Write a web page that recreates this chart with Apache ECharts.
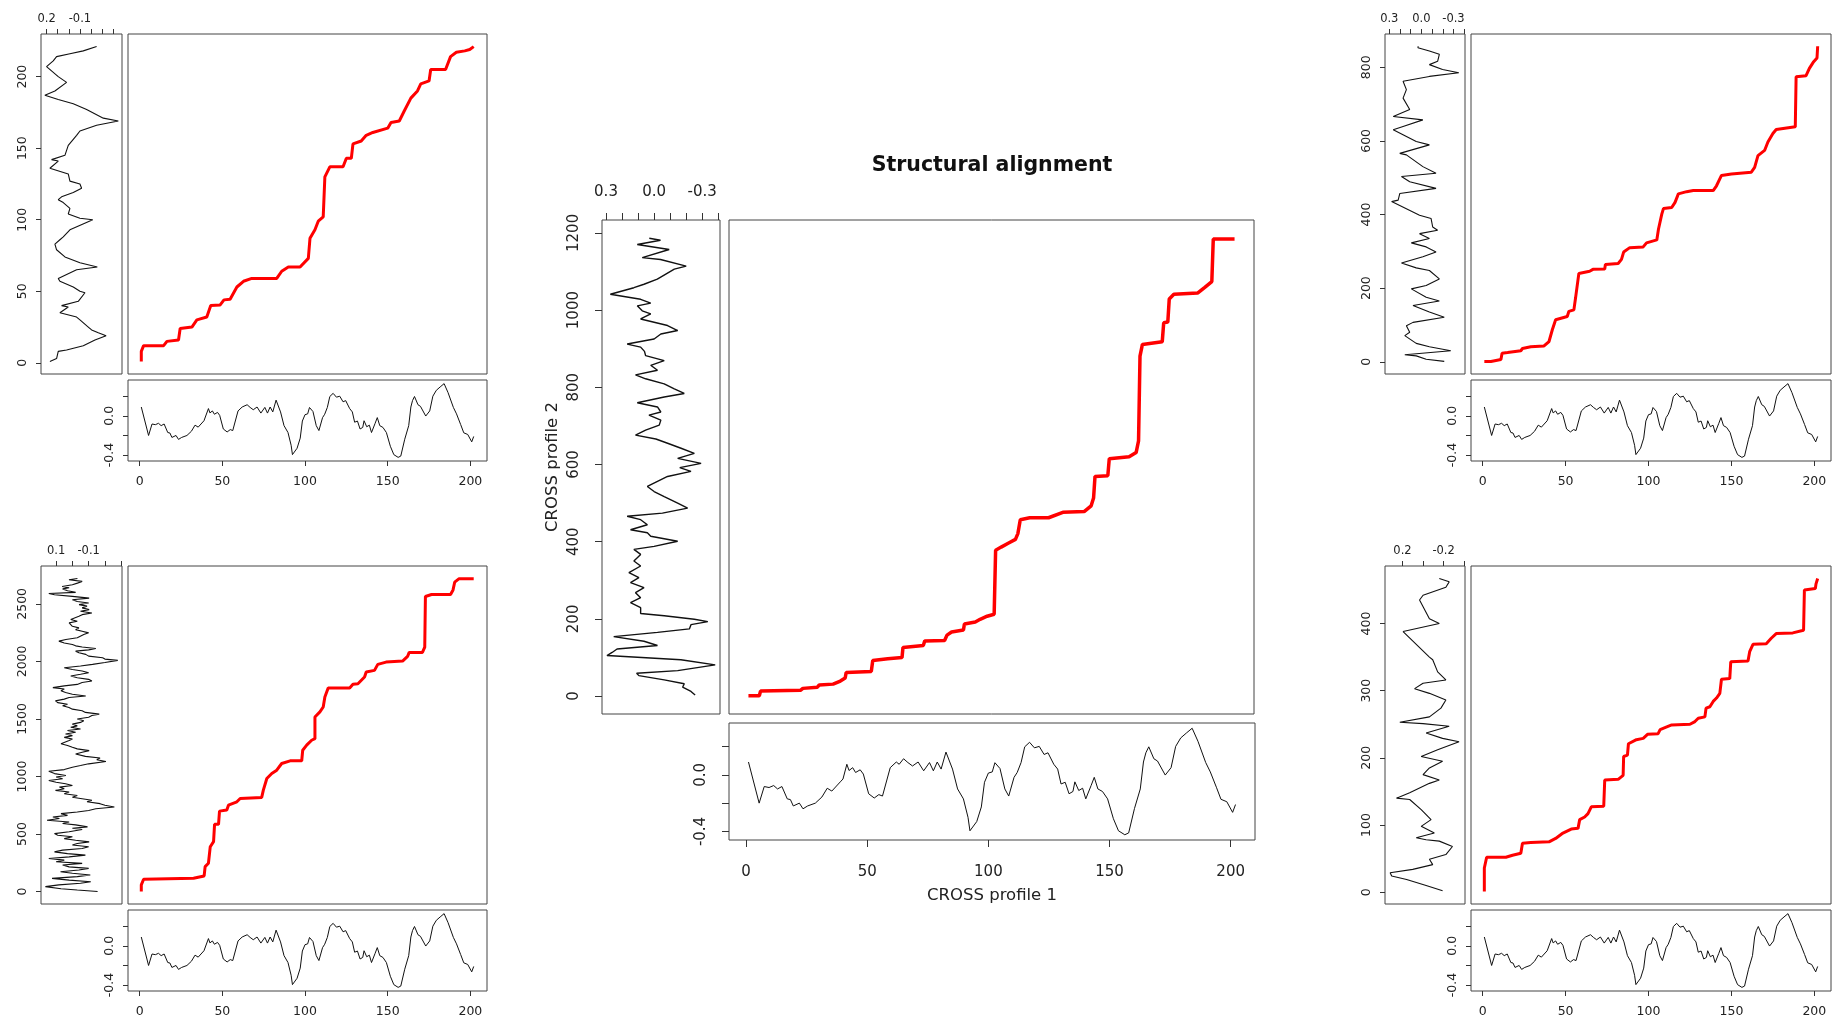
<!DOCTYPE html>
<html><head><meta charset="utf-8">
<script src="https://cdn.jsdelivr.net/npm/echarts@6/dist/echarts.min.js"></script>
<style>html,body{margin:0;padding:0;background:#fff}#c{width:1834px;height:1021px}</style>
</head><body><div id="c"></div>
<script>
// ---------- DATA ----------
// Profile 1 (shared bottom profile): [position, value]
const profile1 = [[1,0.09],[5.4,-0.2],[7.5,-0.083],[9.5,-0.09],[11.4,-0.076],[13,-0.1],[14.8,-0.083],[17,-0.17],[18.3,-0.175],[19.5,-0.22],[22,-0.2],[23.5,-0.24],[25.4,-0.22],[28.6,-0.2],[31.3,-0.157],[33.5,-0.095],[35.4,-0.115],[38.9,-0.05],[40,-0.03],[41.6,0.074],[42.5,0.03],[44,0.05],[45.2,0.016],[47.1,0.035],[48.4,0.005],[50.6,-0.134],[52.9,-0.164],[54.8,-0.14],[56.3,-0.15],[59.5,0.05],[62,0.09],[63.2,0.074],[65,0.113],[66.8,0.086],[68.7,0.062],[71,0.09],[73.3,0.028],[75.7,0.086],[77.3,0.028],[78.9,0.09],[80.5,0.04],[82.5,0.16],[85.2,0.04],[87.3,-0.1],[89.7,-0.17],[91.6,-0.3],[92.4,-0.395],[95.2,-0.33],[97.1,-0.227],[98.4,-0.053],[100,0.012],[101.6,0.02],[102.7,0.085],[104.8,0.044],[106.8,-0.1],[108.4,-0.15],[110.6,-0.018],[111.9,0.016],[113.5,0.086],[115,0.197],[117,0.229],[119,0.19],[121,0.2],[123,0.143],[124.6,0.155],[127,0.074],[128.6,0.04],[130,-0.065],[131.7,-0.053],[133.3,-0.134],[134.9,-0.118],[135.7,-0.05],[137.3,-0.111],[138.9,-0.095],[140.2,-0.17],[142.4,-0.076],[143.7,-0.018],[145.2,-0.1],[147.1,-0.118],[149.2,-0.17],[151.6,-0.31],[153.7,-0.395],[156.3,-0.423],[157.9,-0.41],[160.3,-0.238],[162.7,-0.1],[164,0.09],[165,0.155],[166.2,0.197],[168.3,0.113],[169.8,0.097],[173,-0.002],[175.4,0.05],[177.3,0.2],[179.4,0.26],[181.7,0.294],[184.1,0.328],[186.5,0.236],[189.7,0.086],[191.6,0.02],[194.1,-0.088],[196,-0.173],[198.4,-0.19],[200.8,-0.265],[202,-0.21]];

// Profile 2 of each panel: [value, position]
const prof2TL = [[0.17,1],[0.11,3],[0.095,8],[0.02,9],[-0.13,12],[-0.235,16],[-0.335,19],[-0.265,21],[-0.205,23],[-0.175,25],[-0.1,30],[-0.07,32],[0.08,35],[0.005,39],[0.065,40],[-0.085,43],[-0.145,49],[-0.1,50],[-0.04,53],[0.08,57],[0.095,59],[-0.07,65],[-0.256,67],[-0.1,70],[0.035,74],[0.11,79],[0.125,83],[0.08,86],[0.05,88],[-0.01,93],[-0.215,100],[-0.1,101],[0.005,104],[-0.01,108],[0.05,112],[0.095,114],[0.065,116],[-0.04,119],[-0.115,122],[-0.1,125],[-0.01,127],[0.005,132],[0.17,136],[0.095,141],[0.155,142],[0.035,145],[0.005,152],[-0.07,159],[-0.1,162],[-0.25,166],[-0.445,169],[-0.31,171],[-0.16,177],[-0.04,181],[0.095,184],[0.215,187],[0.125,190],[0.02,196],[0.095,200],[0.2,207],[0.14,211],[0.11,214],[-0.01,216],[-0.13,218],[-0.25,221]];
const prof2BL = [[-0.155,1],[-0.03,14],[0.07,25],[0.166,43],[0.083,58],[-0.05,72],[-0.113,86],[0.02,100],[0.125,115],[-0.03,130],[-0.11,144],[0,160],[0.073,173],[-0.04,188],[-0.1,202],[0.02,215],[0.06,231],[-0.06,245],[0.1,259],[0.05,273],[0.145,288],[0.02,302],[-0.08,317],[0.03,330],[0.11,345],[0.06,360],[-0.06,375],[-0.1,389],[0,405],[-0.03,418],[-0.103,432],[-0.02,446],[0.05,460],[0,476],[0.09,490],[0.11,504],[0.02,520],[-0.06,539],[0,550],[-0.093,562],[-0.02,580],[0.06,592],[0.02,605],[0.156,620],[0.08,635],[0.12,648],[0.03,662],[0.07,677],[-0.03,692],[-0.1,705],[-0.144,720],[-0.258,735],[-0.2,750],[-0.17,764],[-0.09,780],[-0.12,793],[-0.06,807],[0,820],[-0.03,835],[0.05,850],[0.02,865],[0.104,879],[0.05,893],[0.08,908],[0,922],[0.042,937],[0.1,950],[0.145,965],[0.06,980],[0.1,995],[0.04,1009],[0.11,1025],[0.145,1046],[0.05,1060],[0,1081],[-0.05,1095],[-0.1,1110],[-0.206,1130],[-0.15,1145],[-0.17,1160],[-0.08,1175],[-0.02,1196],[-0.06,1210],[-0.103,1225],[-0.03,1240],[0,1254],[0.03,1270],[0.07,1285],[0.073,1297],[0.02,1312],[0,1326],[0.05,1340],[0,1355],[0.042,1369],[-0.02,1385],[0.03,1400],[-0.05,1412],[0.01,1428],[-0.03,1440],[0,1455],[-0.05,1470],[-0.07,1484],[-0.03,1500],[-0.1,1515],[-0.12,1530],[-0.165,1542],[-0.08,1557],[-0.06,1571],[0,1585],[0.021,1599],[0.06,1615],[0.03,1628],[0.09,1642],[0.104,1657],[0.05,1672],[0.02,1686],[-0.082,1700],[0,1715],[0.042,1729],[0.07,1745],[0.05,1760],[0.12,1772],[0.05,1787],[-0.03,1800],[-0.06,1816],[-0.12,1830],[-0.1,1844],[-0.03,1858],[0.01,1873],[-0.05,1888],[-0.1,1902],[-0.06,1916],[0,1930],[0.05,1945],[-0.05,1960],[-0.124,1974],[-0.2,1990],[-0.279,2009],[-0.2,2020],[-0.186,2032],[-0.1,2046],[-0.082,2061],[-0.04,2075],[-0.02,2089],[-0.1,2100],[-0.144,2112],[-0.06,2125],[-0.02,2135],[0,2147],[0.05,2160],[0.083,2176],[0.04,2190],[-0.03,2205],[-0.02,2219],[-0.07,2233],[-0.1,2248],[-0.06,2262],[-0.02,2276],[-0.04,2291],[0,2305],[-0.01,2320],[0.02,2335],[-0.03,2349],[0.01,2364],[0,2378],[-0.04,2392],[-0.06,2406],[-0.12,2420],[-0.05,2435],[-0.103,2450],[-0.06,2465],[-0.09,2480],[-0.041,2493],[-0.1,2507],[-0.03,2520],[0,2536],[-0.103,2550],[0,2565],[0.11,2579],[0.145,2590],[-0.02,2600],[0.03,2614],[0.06,2630],[0.02,2640],[0.063,2651],[0,2666],[-0.031,2680],[-0.06,2695],[0.021,2709],[-0.031,2720]];
const prof2C = [[-0.256,3],[-0.23,12],[-0.178,23],[-0.188,32],[-0.063,42],[0.095,53],[0.109,59],[-0.147,66],[-0.381,81],[-0.167,94],[0.294,105],[0.262,113],[0.231,122],[-0.021,131],[0.063,142],[0.252,154],[-0.021,165],[-0.22,174],[-0.23,185],[-0.335,193],[-0.251,199],[-0.063,208],[0.084,214],[0.084,229],[0.147,242],[0.084,255],[0.116,268],[0.063,281],[0.147,294],[0.095,307],[0.157,320],[0.084,337],[0.126,350],[0.084,367],[0.126,380],[0,388],[-0.147,401],[0.021,414],[0.042,423],[0.147,431],[0.042,444],[0.084,457],[0.168,466],[-0.052,474],[-0.209,487],[-0.147,500],[-0.063,517],[0,530],[0.042,543],[-0.021,556],[-0.084,569],[-0.23,582],[-0.16,592],[-0.293,603],[-0.147,616],[-0.251,629],[-0.168,642],[-0.084,655],[-0.011,666],[0.116,676],[0.053,689],[-0.032,702],[-0.042,715],[0.032,728],[-0.042,736],[-0.021,749],[0.105,760],[-0.063,775],[-0.188,784],[-0.126,796],[-0.063,809],[0.053,822],[0.116,832],[-0.021,844],[0.021,857],[-0.063,869],[0.053,882],[0.06,893],[0.084,904],[0.168,912],[0,925],[-0.042,938],[-0.147,947],[-0.084,960],[0.084,977],[0.021,990],[0.074,998],[0.105,1011],[0.021,1018],[0.084,1028],[0.273,1041],[0.126,1058],[0.063,1067],[-0.02,1080],[-0.126,1106],[-0.2,1114],[-0.04,1131],[0.074,1136],[-0.094,1157],[0.105,1170],[-0.04,1181],[0.03,1186]];
const prof2TR = [[-0.214,1],[-0.045,7],[0.048,16],[0.155,19],[-0.275,30],[-0.075,41],[0.048,50],[0.155,71],[0.109,80],[0.14,98],[0.078,107],[-0.214,121],[-0.075,135],[0.078,153],[-0.168,165],[-0.045,175],[0.094,198],[-0.045,207],[-0.168,225],[-0.075,248],[0.048,255],[0.186,268],[-0.014,285],[-0.137,298],[-0.045,312],[0.094,323],[-0.075,335],[0.017,348],[-0.152,357],[-0.106,366],[-0.091,389],[0.017,398],[0.278,435],[0.217,439],[0.202,457],[-0.137,471],[0.109,489],[0.186,503],[-0.137,512],[-0.014,530],[0.14,562],[0.202,566],[-0.075,589],[0.048,598],[0.263,630],[0.171,639],[-0.014,657],[0.263,666],[0.109,685],[0.171,716],[0.14,739],[0.171,762],[-0.075,775],[-0.35,785],[-0.198,794],[-0.075,807],[-0.152,816],[-0.168,835],[-0.075,844],[0.032,853],[0.03,857]];
const prof2BR = [[-0.19,2],[-0.03,10],[0.16,19],[0.305,24],[0.32,29],[0.1,34],[-0.094,41],[-0.062,49],[-0.222,56],[-0.286,68],[-0.158,76],[-0.03,78],[0.066,81],[-0.11,88],[0.018,98],[-0.078,108],[0.018,123],[0.13,138],[0.258,140],[0.13,148],[-0.062,162],[-0.158,167],[0,175],[-0.062,185],[-0.19,195],[0.018,202],[-0.142,212],[-0.35,224],[-0.19,229],[-0.03,237],[-0.254,247],[0,251],[0.226,253],[-0.062,261],[-0.174,274],[-0.222,286],[-0.062,296],[0.082,303],[0,311],[-0.222,316],[-0.142,328],[-0.094,346],[-0.062,350],[0.194,388],[-0.158,400],[-0.062,407],[0.034,435],[0,442],[-0.222,454],[-0.254,462],[-0.158,467]];

// Alignment paths: [profile-1 position, profile-2 position]
const alignTL = [[1,1],[1,8],[2.4,12],[14.5,12],[16.5,15],[23.5,16],[24.5,24],[31.6,25],[34.6,30],[40.6,32],[43,40],[48.7,40.5],[51,44],[54.7,44.4],[58.8,53],[62.8,57],[67.8,59],[82.9,59],[85.9,64],[89.9,67],[97,67],[102,73],[103,87],[106,93],[108,99],[111,102],[111.5,116],[112,130],[115,137],[123,137],[125,143],[128,143],[129,153],[134,155],[137,159],[141,161],[150,164],[152,168],[157,169],[160,176],[164,185],[168,190],[170,195],[175,197],[176,205],[185,205],[188,214],[191.5,217],[196.6,218],[199.6,219],[202,221]];
const alignBL = [[1,1],[1,58],[2.4,107],[3.4,116],[32.6,116],[39,136],[39.6,217],[41.6,246],[42.7,390],[44.7,434],[45.3,584],[47.7,584],[48.3,699],[52.7,708],[53.7,751],[58.8,780],[60.8,809],[73.8,818],[74.8,881],[76.9,983],[79.9,1026],[82.9,1055],[85.9,1113],[91,1136],[98,1136],[98.6,1228],[101,1272],[104,1315],[106,1329],[106,1517],[109,1561],[111,1604],[112,1691],[114,1769],[127,1769],[129,1801],[132,1806],[136,1864],[137,1908],[142,1922],[144,1974],[149,1994],[159,2003],[162,2043],[163,2078],[171,2078],[172.4,2124],[172.8,2564],[176.5,2581],[188,2581],[189.5,2621],[190.5,2688],[193,2717],[202,2717]];
const alignC = [[1,1],[5.5,1],[6,13],[22.5,15],[23.5,20],[29.5,23],[30.3,29],[36,31],[39,39],[41,47],[41.4,61],[51.8,64],[52.4,92],[58.6,97],[64.5,100],[64.9,126],[73.3,131],[73.9,143],[82.1,144],[83.1,158],[85,166],[89.9,171],[90.3,187],[94.8,192],[96.8,199],[99.7,207],[102.6,212],[103.2,378],[105.5,386],[108.4,396],[111.4,406],[112.4,421],[113.4,457],[117.3,462],[125.1,462],[131,476],[139.8,478],[142.7,493],[143.7,513],[144.3,569],[149.6,571],[150.2,615],[158.4,620],[161.3,631],[162.3,661],[162.9,881],[163.9,911],[172.1,918],[172.7,967],[174.4,969],[175,1029],[176.9,1041],[186.7,1044],[189.7,1059],[192.6,1074],[193.2,1184],[202,1184]];
const alignTR = [[1,1],[5,1],[6,6],[11,6],[11.7,23],[15,25],[16,30],[23,30],[24,36],[29,41],[37,43],[40,55],[42,87],[44,114],[51,123],[52,137],[55,141],[56,173],[58,240],[64.5,246],[66.5,251],[73.6,252],[74,264],[81.7,267],[83.7,278],[85,298],[88.7,310],[96.8,312],[98.8,323],[105,331],[106,360],[108,401],[109,416],[114,419],[116,433],[118,456],[123,462],[127,465],[139,465],[141,478],[144,506],[150,510],[162,515],[164,528],[166,560],[170,574],[172,597],[175,620],[177,631],[188.5,638],[189,774],[195,777],[197,797],[199.6,815],[201.6,825],[202,857]];
const alignBR = [[1,1],[1,36],[2,37],[2.4,52],[14,52],[18,55],[23,58],[24,73],[29,74],[40,75],[44,80],[48.4,88],[53.4,94],[57.5,95],[58.5,108],[61.5,112],[63.5,117],[65.5,127],[73,128],[73.6,167],[81.7,168],[84.7,174],[85,202],[87.3,204],[87.9,221],[92.7,227],[96.8,229],[99.4,235],[105.8,236],[107,242],[111,246],[114,249],[125,250],[128,254],[130,259],[134,261],[134.7,274],[137,276],[139,284],[141,289],[143,296],[144,317],[149,318],[149.6,343],[160,344],[161,358],[163,369],[171,370],[174,378],[177,385],[187,386],[193.5,390],[194,450],[200.6,452],[201,459],[202,467]];

// Tick values / labels
const ticksP1X = [0, 50, 100, 150, 200];
const ticksP1Y = [-0.4, -0.2, 0, 0.2];
const labelsP1Y = [-0.4, 0];
const ticksYTL = [0, 50, 100, 150, 200];
const ticksYBL = [0, 500, 1000, 1500, 2000, 2500];
const ticksYC  = [0, 200, 400, 600, 800, 1000, 1200];
const ticksYTR = [0, 200, 400, 600, 800];
const ticksYBR = [0, 100, 200, 300, 400];
const ticksXTL = [0.2, 0.1, 0, -0.1, -0.2, -0.3, -0.4];
const labelsXTL = [0.2, -0.1];
const ticksXBL = [0.1, 0, -0.1, -0.2, -0.3];
const labelsXBL = [0.1, -0.1];
const ticksXC  = [0.3, 0.2, 0.1, 0, -0.1, -0.2, -0.3, -0.4];
const labelsXC = [0.3, 0, -0.3];
const ticksXTR = [0.3, 0.2, 0.1, 0, -0.1, -0.2, -0.3, -0.4];
const labelsXTR = [0.3, 0, -0.3];
const ticksXBR = [0.2, 0, -0.2, -0.4];
const labelsXBR = [0.2, -0.2];

const titleText = 'Structural alignment';
const xName = 'CROSS profile 1';
const yName = 'CROSS profile 2';

// ---------- LAYOUT ----------
const FONT = 'DejaVu Sans';
const panels = [
  {prof: prof2TL, align: alignTL, yr: [-7.8, 229.8], xr: [-0.478, 0.25], yt: ticksYTL, xt: ticksXTL, xl: labelsXTL,
   pBox: [41, 34, 81, 340], mBox: [128, 34, 359, 340], bBox: [128, 380, 359, 81], fs: 12.5, tfs: 11.5, tl: 5, big: false},
  {prof: prof2BL, align: alignBL, yr: [-107.8, 2828.8], xr: [-0.305, 0.193], yt: ticksYBL, xt: ticksXBL, xl: labelsXBL,
   pBox: [41, 566, 81, 338], mBox: [128, 566, 359, 338], bBox: [128, 910, 359, 81], fs: 12.5, tfs: 11.5, tl: 5, big: false},
  {prof: prof2C, align: alignC, yr: [-46.4, 1233.4], xr: [-0.411, 0.325], yt: ticksYC, xt: ticksXC, xl: labelsXC,
   pBox: [602, 220, 118, 494], mBox: [729, 220, 525, 494], bBox: [729, 723, 526, 117], fs: 15, tfs: 15, tl: 7, big: true},
  {prof: prof2TR, align: alignTR, yr: [-33.2, 890.2], xr: [-0.408, 0.34], yt: ticksYTR, xt: ticksXTR, xl: labelsXTR,
   pBox: [1385, 34, 80, 340], mBox: [1471, 34, 360, 340], bBox: [1471, 380, 360, 81], fs: 12.5, tfs: 11.5, tl: 5, big: false},
  {prof: prof2BR, align: alignBR, yr: [-17.6, 485.6], xr: [-0.408, 0.37], yt: ticksYBR, xt: ticksXBR, xl: labelsXBR,
   pBox: [1385, 566, 80, 338], mBox: [1471, 566, 360, 338], bBox: [1471, 910, 360, 81], fs: 12.5, tfs: 11.5, tl: 5, big: false}
];

const grids = [], xAxes = [], yAxes = [], series = [];
function addGrid(b) {
  grids.push({left: b[0], top: b[1], width: b[2], height: b[3], show: true,
    borderColor: '#444', borderWidth: 1, backgroundColor: 'transparent'});
  return grids.length - 1;
}
const fmt1 = v => (Math.abs(v) < 1e-9 ? '0.0' : v.toFixed(1));
function tickAx(gi, o) {
  return Object.assign({
    gridIndex: gi, type: 'value', scale: true,
    axisLine: {show: false, onZero: false}, splitLine: {show: false},
    axisTick: {show: true, inside: false, length: o.tl, customValues: o.ticks, lineStyle: {color: '#333', width: 1}},
    axisLabel: {show: true, customValues: o.labels, fontFamily: FONT, fontSize: o.fs, color: '#222', margin: o.margin,
      rotate: o.rotate || 0, formatter: o.fmt}
  }, o.extra || {});
}
function hiddenAx(gi, r) { return {gridIndex: gi, type: 'value', min: r[0], max: r[1], show: false,
  axisLine: {onZero: false}, splitLine: {show: false}}; }

panels.forEach(p => {
  const big = p.big;
  // left profile
  let g = addGrid(p.pBox);
  xAxes.push(tickAx(g, {ticks: p.xt, labels: p.xl, tl: p.tl, fs: p.tfs, margin: big ? 20 : 9, fmt: fmt1,
    extra: {position: 'top', inverse: true, min: p.xr[0], max: p.xr[1]}}));
  yAxes.push(tickAx(g, {ticks: p.yt, labels: p.yt, tl: p.tl, fs: p.fs, margin: big ? 20 : 12, rotate: 90,
    fmt: v => String(Math.round(v)),
    extra: Object.assign({position: 'left', min: p.yr[0], max: p.yr[1]}, big ? {name: yName, nameLocation: 'middle', nameGap: 41, nameRotate: 90,
      nameTextStyle: {fontFamily: FONT, fontSize: 16.5, color: '#222'}} : {})}));
  series.push({type: 'line', xAxisIndex: xAxes.length - 1, yAxisIndex: yAxes.length - 1, data: p.prof,
    symbol: 'none', lineStyle: {color: '#111', width: big ? 1.4 : 1.1}, silent: true});
  // main alignment
  g = addGrid(p.mBox);
  xAxes.push(hiddenAx(g, [-7.04, 210.04]));
  yAxes.push(hiddenAx(g, p.yr));
  series.push({type: 'line', xAxisIndex: xAxes.length - 1, yAxisIndex: yAxes.length - 1, data: p.align,
    symbol: 'none', lineStyle: {color: '#ff0000', width: big ? 3.5 : 3}, silent: true});
  // bottom profile 1
  g = addGrid(p.bBox);
  xAxes.push(tickAx(g, {ticks: ticksP1X, labels: ticksP1X, tl: p.tl, fs: p.fs, margin: big ? 25 : 14,
    fmt: v => String(Math.round(v)),
    extra: Object.assign({position: 'bottom', min: -7.04, max: 210.04}, big ? {name: xName, nameLocation: 'middle', nameGap: 47,
      nameTextStyle: {fontFamily: FONT, fontSize: 16.5, color: '#222'}} : {})}));
  yAxes.push(tickAx(g, {ticks: ticksP1Y, labels: labelsP1Y, tl: p.tl, fs: p.fs, margin: big ? 20 : 12, rotate: 90, fmt: fmt1,
    extra: {position: 'left', min: -0.46, max: 0.365}}));
  series.push({type: 'line', xAxisIndex: xAxes.length - 1, yAxisIndex: yAxes.length - 1, data: profile1,
    symbol: 'none', lineStyle: {color: '#111', width: 1}, silent: true});
});

const chart = echarts.init(document.getElementById('c'), null, {renderer: 'canvas'});
chart.setOption({
  animation: false,
  backgroundColor: '#ffffff',
  title: {text: titleText, left: 987, top: 150, textAlign: 'center',
    textStyle: {fontFamily: FONT, fontWeight: 'bold', fontSize: 20.5, color: '#111'}},
  grid: grids, xAxis: xAxes, yAxis: yAxes, series: series
});
</script></body></html>
